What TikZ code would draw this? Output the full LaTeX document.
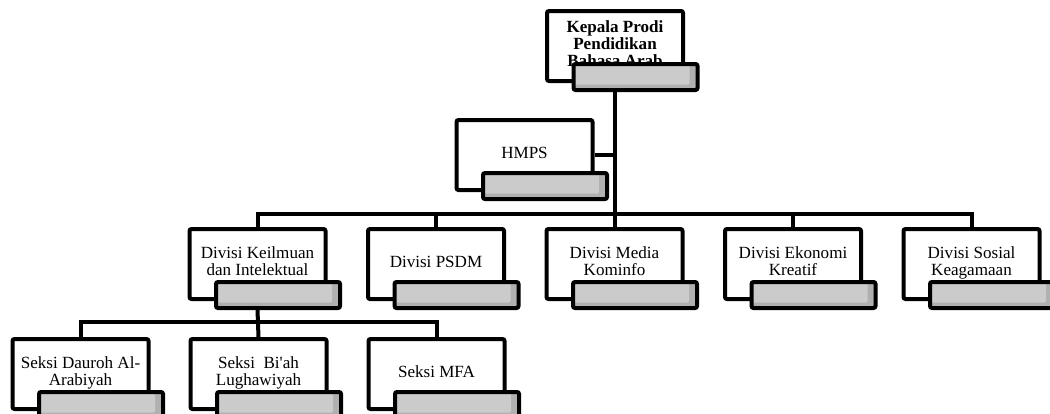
\documentclass[tikz,border=0pt]{standalone}
\usepackage{fontspec}
\setmainfont{Liberation Serif}
\usetikzlibrary{positioning, calc}
\definecolor{tabface}{RGB}{203, 203, 203}
\definecolor{tabshade}{RGB}{176, 176, 176}

\newcommand{\orgunit}[5][]{%
    \node[unit_style, #1] (#2) at (#3,#4)
        {\raisebox{1.5pt}{\begin{tabular}{@{}c@{}}#5\end{tabular}}};
    \node[tab_style] (#2t) at ($(#2.center)+(20.5,31)$) {};
}

\begin{document}
\begin{tikzpicture}[
    x=0.75pt, y=-0.75pt,
    unit_style/.style={
        draw=black,
        line width=3pt,
        rounded corners=1.5pt,
        fill=white,
        minimum width=102pt,
        minimum height=52.5pt,
        inner sep=0pt,
        font=\fontsize{12.8}{12.8}\selectfont
    },
    tab_style/.style={
        draw=black,
        line width=3pt,
        rounded corners=1.5pt,
        fill=tabshade,
        minimum width=93pt,
        minimum height=19.5pt,
        inner sep=0pt,
        path picture={
            \fill[tabface] (path picture bounding box.north west)
                rectangle ([xshift=-6pt, yshift=4pt]path picture bounding box.south east);
        }
    },
    link/.style={draw=black, line width=3pt}
]
\useasboundingbox (0,0) rectangle (1050,414);

% top of the chart
\orgunit[font=\fontsize{12.8}{12.8}\selectfont\bfseries]{kp}{615}{46}{Kepala Prodi\\Pendidikan\\Bahasa Arab}
\orgunit{hmps}{524.5}{155}{HMPS}

% divisions
\orgunit{dk}{257.5}{264}{Divisi Keilmuan\\dan Intelektual}
\orgunit{dp}{436}{264}{Divisi PSDM}
\orgunit{dm}{614.5}{264}{Divisi Media\\Kominfo}
\orgunit{de}{793}{264}{Divisi Ekonomi\\Kreatif}
\orgunit{ds}{971.5}{264}{Divisi Sosial\\Keagamaan}

% sections
\orgunit{sd}{80.5}{374}{Seksi Dauroh Al-\\Arabiyah}
\orgunit{sb}{258.5}{374}{Seksi\ \ Bi\textquotesingle ah\\Lughawiyah}
\orgunit{sm}{436.5}{374}{Seksi MFA}

\coordinate (bus) at (615,214);
\coordinate (sbus) at (258.5,322);

% connectors
\draw[link] (kpt.south -| kp.south) -- (bus);
\draw[link] (hmps.east) -- (hmps.east -| kp.south);
\draw[link] (dk.north) -- (dk.north |- bus) -| (ds.north);
\draw[link] (dp.north) -- (dp.north |- bus);
\draw[link] (dm.north) -- (dm.north |- bus);
\draw[link] (de.north) -- (de.north |- bus);

\draw[link] (dkt.south -| dk.south) -- (sb.north);
\draw[link] (sd.north) |- (sbus) -| (sm.north);

\end{tikzpicture}
\end{document}
